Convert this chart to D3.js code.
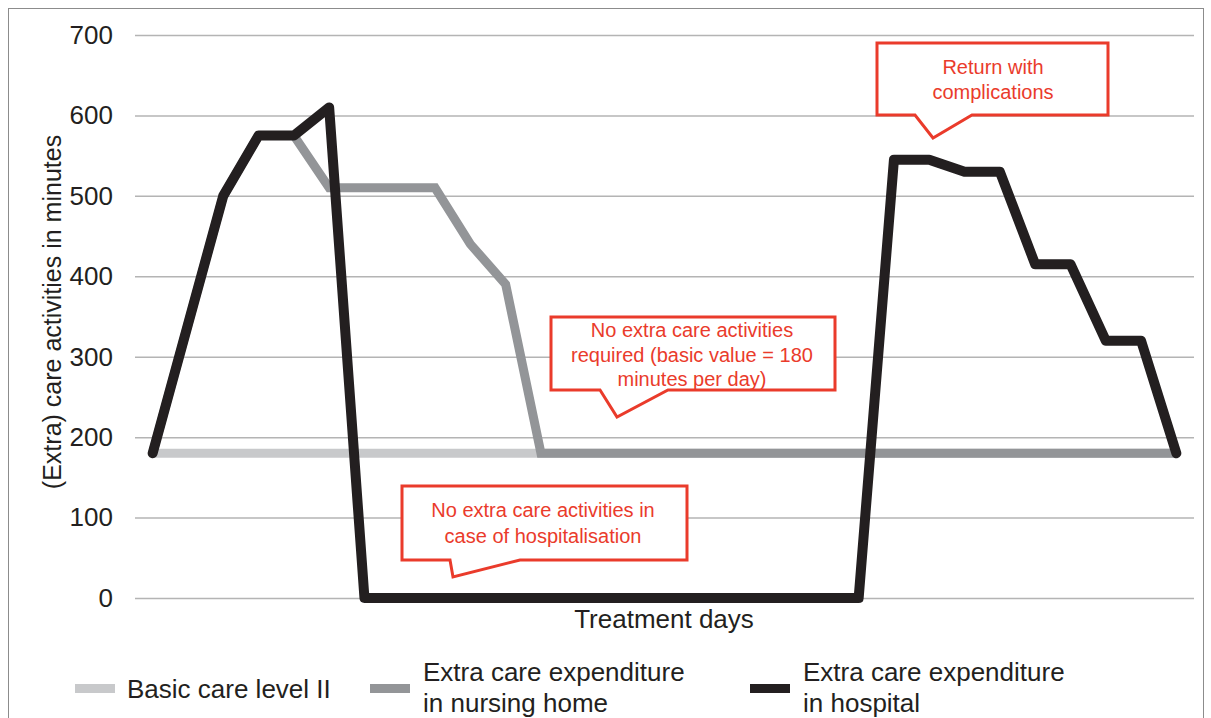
<!DOCTYPE html>
<html>
<head>
<meta charset="utf-8">
<script src="https://cdn.jsdelivr.net/npm/d3@7"></script>
<style>
  html, body { margin: 0; padding: 0; background: #fff; }
  svg { display: block; font-family: "Liberation Sans", Arial, sans-serif; }
</style>
</head>
<body>
<svg id="chart" width="1211" height="718"></svg>
<script>
// ---- data ----
const days = d3.range(1, 31); // 30 treatment days
const basicCare = days.map(() => 180);
const nursingHome = [180, 340, 500, 575, 575, 510, 510, 510, 510, 440, 390,
  180, 180, 180, 180, 180, 180, 180, 180, 180, 180, 180, 180, 180, 180, 180, 180, 180, 180, 180];
const hospital = [180, 340, 500, 575, 575, 610, 0, 0, 0, 0, 0, 0, 0, 0, 0, 0, 0, 0, 0, 0, 0,
  545, 545, 530, 530, 415, 415, 320, 320, 180];
const yTicks = [0, 100, 200, 300, 400, 500, 600, 700];
const seriesNames = ["Basic care level II", "Extra care expenditure\nin nursing home", "Extra care expenditure\nin hospital"];
const callouts = [
  { lines: ["Return with", "complications"] },
  { lines: ["No extra care activities", "required (basic value = 180", "minutes per day)"] },
  { lines: ["No extra care activities in", "case of hospitalisation"] }
];

// ---- layout ----
const svg = d3.select("#chart");
const plot = { left: 135, right: 1194, top: 35, bottom: 598 };
const x = d3.scalePoint().domain(days).range([plot.left, plot.right]).padding(0.5);
const y = d3.scaleLinear().domain([0, 700]).range([plot.bottom, plot.top]);
const red = "#ea3b2b";
const colors = ["#c8c9cb", "#939598", "#231f20"];

// outer border
svg.append("rect").attr("x", 8.5).attr("y", 8.5).attr("width", 1195).attr("height", 730)
  .attr("fill", "none").attr("stroke", "#8c8c8c").attr("stroke-width", 1);

// gridlines
const yAxis = d3.axisLeft(y).tickValues(yTicks).tickSize(-(plot.right - plot.left)).tickPadding(22);
const gy = svg.append("g").attr("transform", `translate(${plot.left},0)`).call(yAxis);
gy.select(".domain").remove();
gy.selectAll(".tick line").attr("stroke", "#b4b4b4").attr("stroke-width", 1.5);
gy.selectAll(".tick text").attr("font-size", 26).attr("fill", "#231f20")
  .attr("font-family", "Liberation Sans, Arial, sans-serif");

// axis titles
svg.append("text").attr("transform", "translate(61,312) rotate(-90)")
  .attr("text-anchor", "middle").attr("font-size", 25).attr("fill", "#231f20")
  .text("(Extra) care activities in minutes");
svg.append("text").attr("x", 664).attr("y", 628).attr("text-anchor", "middle")
  .attr("font-size", 26).attr("fill", "#231f20").text("Treatment days");

// lines
const line = d3.line().x((d, i) => x(days[i])).y(d => y(d));
svg.append("path").datum(basicCare).attr("d", line).attr("fill", "none")
  .attr("stroke", colors[0]).attr("stroke-width", 9);
svg.append("path").datum(nursingHome).attr("d", line).attr("fill", "none")
  .attr("stroke", colors[1]).attr("stroke-width", 9).attr("stroke-linejoin", "miter");
svg.append("path").datum(hospital).attr("d", line).attr("fill", "none")
  .attr("stroke", colors[2]).attr("stroke-width", 10).attr("stroke-linejoin", "round")
  .attr("stroke-linecap", "round");

// callouts
const calloutGeom = [
  { x0: 877, x1: 1108, y0: 43, y1: 115, b0: 915, b1: 972, tx: 933, ty: 138, cx: 993, base: 74, lh: 25 },
  { x0: 551, x1: 835, y0: 317, y1: 390, b0: 600, b1: 668, tx: 617, ty: 417, cx: 692, base: 337, lh: 24.5 },
  { x0: 402, x1: 687, y0: 486, y1: 560, b0: 450, b1: 520, tx: 453, ty: 577, cx: 543, base: 517, lh: 26 }
];
callouts.forEach((c, k) => {
  const g = calloutGeom[k];
  const p = d3.path();
  p.moveTo(g.x0, g.y0); p.lineTo(g.x1, g.y0); p.lineTo(g.x1, g.y1); p.lineTo(g.b1, g.y1);
  p.lineTo(g.tx, g.ty); p.lineTo(g.b0, g.y1); p.lineTo(g.x0, g.y1); p.closePath();
  svg.append("path").attr("d", p.toString()).attr("fill", "#fff").attr("stroke", red)
    .attr("stroke-width", 3).attr("stroke-linejoin", "miter");
  const t = svg.append("text").attr("text-anchor", "middle").attr("font-size", 20).attr("fill", red);
  c.lines.forEach((ln, i) => {
    t.append("tspan").attr("x", g.cx).attr("y", g.base + i * g.lh).text(ln);
  });
});

// legend
const legendPos = [{ sx: 75, tx: 127 }, { sx: 370, tx: 423 }, { sx: 750, tx: 803 }];
seriesNames.forEach((name, i) => {
  const lp = legendPos[i];
  svg.append("rect").attr("x", lp.sx).attr("y", 684).attr("width", 40).attr("height", 9)
    .attr("fill", colors[i]);
  const lines = name.split("\n");
  const t = svg.append("text").attr("font-size", 26).attr("fill", "#231f20");
  if (lines.length === 1) {
    t.append("tspan").attr("x", lp.tx).attr("y", 698).text(lines[0]);
  } else {
    lines.forEach((ln, j) => t.append("tspan").attr("x", lp.tx).attr("y", 681 + j * 31).text(ln));
  }
});
</script>
</body>
</html>
